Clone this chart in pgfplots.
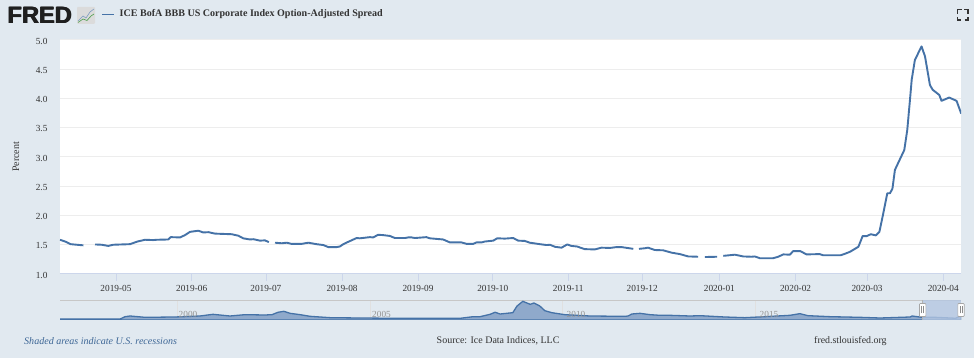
\documentclass[border=0pt]{standalone}
\usepackage{fontspec}
\setmainfont{Liberation Serif}
\newfontfamily\logofont{Liberation Sans}
\usepackage{pgfplots}
\pgfplotsset{compat=1.18}
\definecolor{pagebg}{HTML}{E1E9F0}
\definecolor{serie}{HTML}{4572A7}
\definecolor{gridc}{HTML}{EDEDED}
\definecolor{axisc}{HTML}{CCD6EB}
\definecolor{txt}{HTML}{333333}
\definecolor{navfill}{HTML}{8FA9CB}
\definecolor{maskc}{HTML}{B4C6E2}
\begin{document}
\begin{tikzpicture}
\fill[pagebg] (0pt,0pt) rectangle (974pt,358pt);
% main chart
\begin{axis}[
  at={(60pt,84pt)}, anchor=south west, scale only axis,
  width=901pt, height=234pt,
  xmin=0, xmax=365.4, ymin=1, ymax=5,
  axis background/.style={fill=white},
  axis x line*=bottom, axis y line*=left,
  x axis line style={draw=axisc,line width=1pt,-},
  y axis line style={draw=none,-},
  ytick={1,1.5,2,2.5,3,3.5,4,4.5,5},
  yticklabel style={/pgf/number format/fixed,/pgf/number format/fixed zerofill,/pgf/number format/precision=1,/pgf/number format/assume math mode=true,font=\fontsize{9.3}{11}\selectfont,text=txt,xshift=-2pt,yshift=-1pt},
  ymajorgrids, grid style={gridc,line width=1pt},
  ytick style={draw=none},
  xtick={22.7,53.4,83.5,114.4,145.2,175.5,206.1,236.1,267.4,298.3,327.3,358.2},
  xticklabels={2019-05,2019-06,2019-07,2019-08,2019-09,2019-10,2019-11,2019-12,2020-01,2020-02,2020-03,2020-04},
  xticklabel style={font=\fontsize{9.3}{11}\selectfont,text=txt,yshift=-1pt},
  x tick style={draw=axisc,line width=.7pt},
  tick align=outside, major tick length=7pt,
  ylabel={Percent},
  every axis y label/.style={at={(-44pt,117pt)},rotate=90,anchor=center,font=\fontsize{10}{11}\selectfont,text=txt},
  unbounded coords=jump, clip=true,
]
\addplot[serie,line width=1.9pt,line join=round] table[x=d,y=v] {
d v
0 1.585
2.4 1.55
4.3 1.51
6.8 1.50
9.5 1.49
10.5 nan
14.2 1.505
16.9 1.50
19.6 1.48
21.6 1.50
25 1.505
28.4 1.51
31.4 1.555
34.5 1.585
37.8 1.58
39.2 1.585
43.9 1.59
44.9 1.63
48.7 1.625
50.7 1.665
52.7 1.72
56.1 1.74
58.1 1.71
60.2 1.715
62.9 1.69
69.6 1.68
72.3 1.655
74.3 1.61
77 1.59
78.4 1.595
81.1 1.57
83.1 1.575
84.7 1.545
85.5 nan
87.2 1.535
89.9 1.525
91.9 1.535
93.9 1.515
98 1.515
100.7 1.535
104 1.51
106.8 1.495
108.8 1.46
112.2 1.46
113.5 1.47
114.9 1.51
116.9 1.55
120.3 1.615
121.6 1.61
125.7 1.63
127 1.625
129 1.67
131 1.665
133.8 1.65
135.8 1.615
139.9 1.615
141.2 1.625
142.6 1.625
143.9 1.615
148.6 1.63
150 1.61
155.4 1.59
158.1 1.54
162.8 1.54
164.9 1.515
167.6 1.515
168.9 1.54
171 1.54
172.3 1.555
175.7 1.57
177.3 1.61
180.4 1.605
183.8 1.615
185.8 1.57
188.5 1.565
190.5 1.535
194.6 1.51
197.3 1.495
198.7 1.50
200.7 1.465
203.4 1.45
205.7 1.505
207.4 1.48
209.7 1.47
212.8 1.425
216.9 1.42
219.6 1.45
222.99 1.445
225.7 1.46
227.7 1.46
232.5 1.43
233.5 nan
234.8 1.43
237.2 1.44
238.5 1.45
241.2 1.41
244.6 1.405
248 1.365
251.4 1.34
254.8 1.30
258.8 1.295
260 nan
261.5 1.29
266.5 1.295
267.7 nan
269 1.31
273.7 1.33
277.1 1.30
280.4 1.295
281.8 1.30
283.8 1.27
289.2 1.27
291.3 1.295
293.3 1.335
296 1.33
297.3 1.39
300.3 1.39
302.7 1.335
308.1 1.34
309.5 1.32
316.5 1.32
318.3 1.345
320.4 1.38
323.8 1.466
325.5 1.648
327.2 1.648
328.8 1.68
330.9 1.66
332.3 1.72
333.6 1.98
335.5 2.38
336.6 2.38
337.6 2.46
338.6 2.78
342.4 3.12
343.6 3.46
344.7 3.976
345.4 4.32
346.7 4.66
349.4 4.89
350.8 4.72
352.8 4.23
353.9 4.15
356.6 4.06
357.5 3.96
360.6 4.016
363.6 3.96
365.5 3.74
};
\end{axis}
% navigator
\begin{axis}[
  at={(60pt,38pt)}, anchor=south west, scale only axis,
  width=901pt, height=20pt,
  xmin=1996.96, xmax=2020.34, ymin=0.9, ymax=8.9,
  axis x line*=top, axis y line=none,
  x axis line style={draw=black!22,line width=.8pt,-},
  xtick={2000,2005,2010,2015}, xticklabels={}, xmajorgrids,
  grid style={black!12,line width=.5pt}, x tick style={draw=none},
  clip=true,
]
\addplot[draw=serie,line width=1.3pt,fill=navfill] coordinates {
(1996.96,1.3)(1998.52,1.3)(1998.65,2.23)(1998.78,2.5)(1999.17,1.97)(1999.94,2.1)(2000.59,2.5)(2000.93,3.17)(2001.37,2.5)(2001.76,3.03)(2002.28,2.9)(2002.46,3.03)(2002.62,4.0)(2002.77,4.37)(2002.93,3.57)(2003.19,3.03)(2003.45,2.37)(2003.97,1.83)(2004.74,1.7)(2005.78,1.57)(2007.34,1.57)(2007.68,2.23)(2007.86,2.23)(2008.12,3.17)(2008.25,4.0)(2008.38,3.3)(2008.71,3.83)(2008.82,6.5)(2008.97,8.37)(2009.16,7.17)(2009.26,7.7)(2009.41,6.5)(2009.54,4.63)(2009.72,3.83)(2010.06,3.03)(2010.71,2.5)(2011.62,2.37)(2011.70,2.5)(2011.80,3.3)(2012.01,3.57)(2012.27,3.03)(2012.53,2.77)(2012.79,2.77)(2013.31,2.5)(2013.57,2.63)(2014.21,2.1)(2014.73,1.83)(2015.25,2.23)(2015.90,2.77)(2016.16,3.43)(2016.37,2.63)(2016.94,2.23)(2017.72,1.97)(2018.24,1.7)(2019.02,2.1)(2019.07,2.5)(2019.33,1.97)(2019.66,1.97)(2020.20,1.6)(2020.34,2.6)
} \closedcycle;
\end{axis}
% navigator year labels
\foreach \x/\l in {188/2000,381.5/2005,576/2010,769/2015}{
  \node[text=black!42,font=\fontsize{9.3}{11}\selectfont,inner sep=0pt] at (\x pt,44pt) {\l};
}
% navigator selection
\fill[maskc,opacity=.8] (922.7pt,38pt) rectangle (961pt,58pt);
\draw[black!30,line width=.5pt] (922.7pt,38pt) -- (922.7pt,58pt);
\foreach \x in {922.7,961}{
  \fill[white,draw=black!35,line width=.6pt,rounded corners=.8pt] (\x pt-3.2pt,41.5pt) rectangle (\x pt+3.2pt,54.5pt);
  \draw[black!45,line width=.5pt] (\x pt-1pt,44.5pt) -- (\x pt-1pt,51.5pt) (\x pt+1pt,44.5pt) -- (\x pt+1pt,51.5pt);
}
% header
\foreach \dx in {0,0.5,1}{
  \node[anchor=base west,inner sep=0pt,text=black!88,font=\logofont\bfseries\fontsize{23.6}{24}\selectfont] at (7pt+\dx pt,334pt) {FRED};
}
\fill[black!14,rounded corners=1pt] (77pt,334pt) rectangle (95pt,351pt);
\draw[serie!70,line width=.6pt] (78pt,337pt) -- (83pt,342pt) -- (86pt,340pt) -- (90pt,346pt) -- (94pt,349pt);
\draw[green!45!black!70,line width=.6pt] (78pt,335.5pt) -- (83pt,339pt) -- (87pt,337.5pt) -- (91pt,342pt) -- (94pt,344pt);
\draw[serie,line width=1.9pt] (102pt,343.5pt) -- (114pt,343.5pt);
\node[anchor=west,inner sep=0pt,text=txt,font=\bfseries\fontsize{10.05}{11}\selectfont] at (119.5pt,343.5pt) {ICE BofA BBB US Corporate Index Option-Adjusted Spread};
% fullscreen icon
\draw[black!80,line width=1.3pt]
  (957.5pt,344pt) -- (957.5pt,348.5pt) -- (962pt,348.5pt)
  (964pt,348.5pt) -- (968pt,348.5pt) -- (968pt,344pt)
  (957.5pt,341pt) -- (957.5pt,338pt) -- (961pt,338pt)
  (964.5pt,338pt) -- (968pt,338pt) -- (968pt,341pt);
% footer
\node[anchor=west,inner sep=0pt,text=serie!90!black,font=\itshape\fontsize{10.05}{11}\selectfont] at (24pt,17pt) {Shaded areas indicate U.S. recessions};
\node[anchor=west,inner sep=0pt,text=txt,font=\fontsize{10}{11}\selectfont] at (436.5pt,17pt) {Source: Ice Data Indices, LLC};
\node[anchor=west,inner sep=0pt,text=txt,font=\fontsize{9.9}{11}\selectfont] at (814pt,17pt) {fred.stlouisfed.org};
\end{tikzpicture}
\end{document}
